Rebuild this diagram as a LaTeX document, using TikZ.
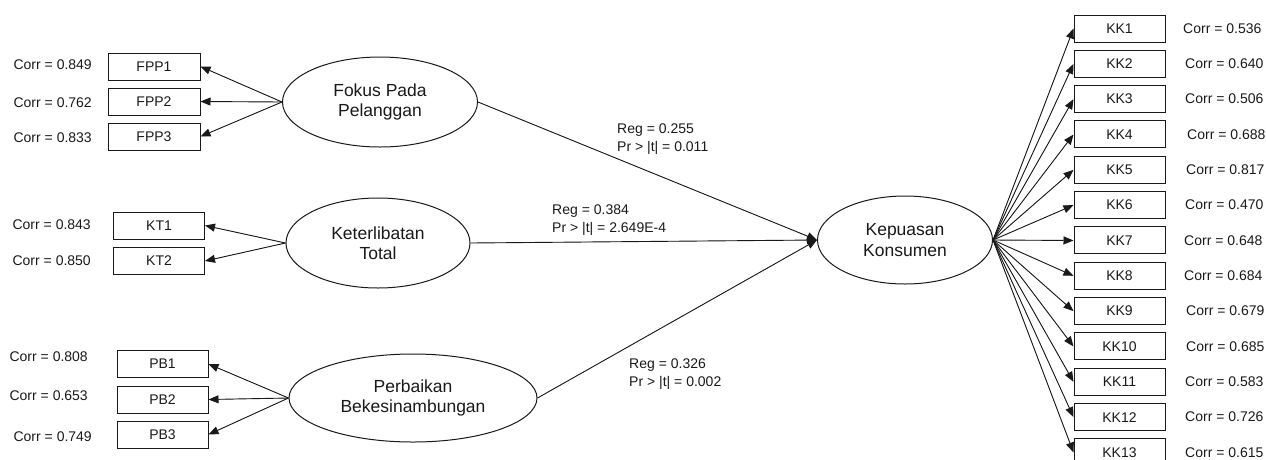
\documentclass[tikz,border=0pt]{standalone}
\usepackage{fontspec}
\setmainfont{Liberation Sans}
\usetikzlibrary{arrows.meta,shapes.geometric}
\begin{document}
\begin{tikzpicture}[x=1pt,y=-1pt,
  box/.style={draw=black!90, line width=1pt, minimum width=92pt, minimum height=27pt, inner sep=0pt, font=\fontsize{14}{17}\selectfont, text=black!90},
  lat/.style={draw=black!90, line width=1pt, ellipse, inner sep=0pt, font=\fontsize{17.5}{20.5}\selectfont, align=center, text=black!90},
  lbl/.style={font=\fontsize{14}{18}\selectfont, inner sep=0pt, text=black!90, align=left},
  arr/.style={-{Triangle[length=10pt,width=8pt]}, line width=0.9pt, draw=black!90, fill=black!90},
]
\useasboundingbox (0,0) rectangle (1266,459);

% latent variables
\node[lat, minimum width=195pt, minimum height=90pt] (fpp) at (380,102) {Fokus Pada\\Pelanggan};
\node[lat, minimum width=184pt, minimum height=90pt] (kt) at (378,243) {Keterlibatan\\Total};
\node[lat, minimum width=248pt, minimum height=88pt] (pb) at (413,398) {Perbaikan\\Bekesinambungan};
\node[lat, minimum width=175pt, minimum height=88pt] (kep) at (905,240) {Kepuasan\\Konsumen};

% FPP indicators
\node[box] (fpp1) at (154,66.5) {FPP1};
\node[box] (fpp2) at (154,101.5) {FPP2};
\node[box] (fpp3) at (154,136.5) {FPP3};
\node[lbl, anchor=east] (cf1) at (92,65) {Corr = 0.849};
\node[lbl, anchor=east] (cf2) at (92,102.5) {Corr = 0.762};
\node[lbl, anchor=east] (cf3) at (92,138) {Corr = 0.833};
\foreach \i in {1,2,3} {\draw[arr] (fpp.west) -- (fpp\i.east);}

% KT indicators
\node[box, minimum width=91pt] (kt1) at (159,225.5) {KT1};
\node[box, minimum width=91pt] (kt2) at (159,261) {KT2};
\node[lbl, anchor=east] (ct1) at (91,225) {Corr = 0.843};
\node[lbl, anchor=east] (ct2) at (91,261) {Corr = 0.850};
\foreach \i in {1,2} {\draw[arr] (kt.west) -- (kt\i.east);}

% PB indicators
\node[box, minimum width=91pt] (pb1) at (162.5,364) {PB1};
\node[box, minimum width=91pt] (pb2) at (162.5,399.5) {PB2};
\node[box, minimum width=91pt] (pb3) at (162.5,434.5) {PB3};
\node[lbl, anchor=east] (cp1) at (88,357) {Corr = 0.808};
\node[lbl, anchor=east] (cp2) at (88,396) {Corr = 0.653};
\node[lbl, anchor=east] (cp3) at (92,437) {Corr = 0.749};
\foreach \i in {1,2,3} {\draw[arr] (pb.west) -- (pb\i.east);}

% structural paths
\draw[arr] (fpp.east) -- (kep.west);
\draw[arr] (kt.east) -- (kep.west);
\draw[arr] (pb.east) -- (kep.west);
\node[lbl, anchor=west] (r1) at (617,139) {Reg = 0.255\\Pr > |t| = 0.011};
\node[lbl, anchor=west] (r2) at (552,220.5) {Reg = 0.384\\Pr > |t| = 2.649E-4};
\node[lbl, anchor=west] (r3) at (629,374.5) {Reg = 0.326\\Pr > |t| = 0.002};

% KK indicators
\foreach \i/\c/\dx in {1/0.536/0,2/0.640/2,3/0.506/2,4/0.688/4,5/0.817/3,6/0.470/2,7/0.648/1,8/0.684/1,9/0.679/3,10/0.685/3,11/0.583/2,12/0.726/2,13/0.615/2} {
  \node[box, minimum width=91pt] (kk\i) at (1119.5,{28.5+(\i-1)*35.33}) {KK\i};
  \node[lbl, anchor=west] (ck\i) at ({1183+\dx},{28.5+(\i-1)*35.33}) {Corr = \c};
  \draw[arr] (kep.east) -- (kk\i.west);
}
\end{tikzpicture}
\end{document}
